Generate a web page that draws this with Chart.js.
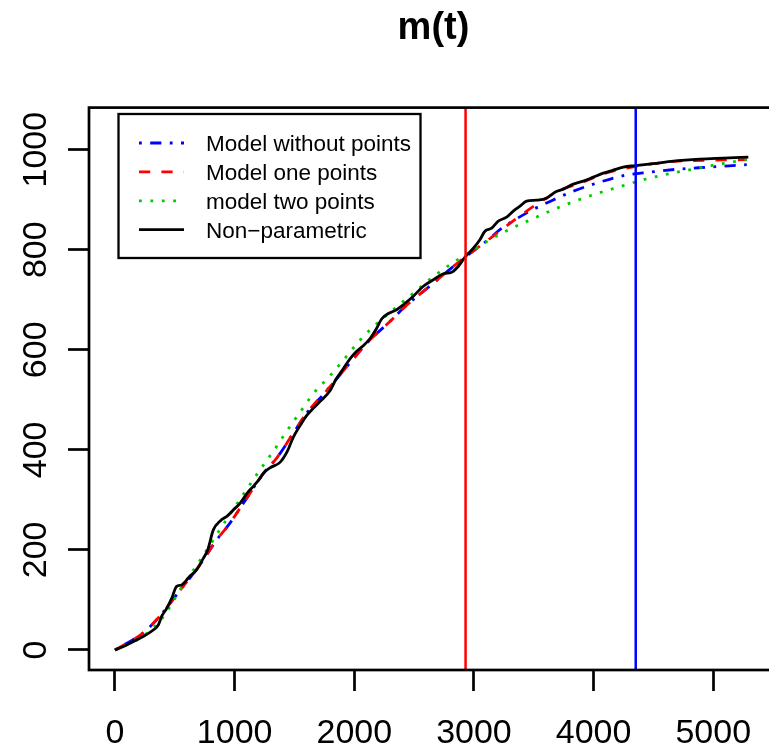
<!DOCTYPE html>
<html>
<head>
<meta charset="utf-8">
<script src="https://cdn.jsdelivr.net/npm/chart.js@4.4.1/dist/chart.umd.min.js"></script>
<style>
html,body{margin:0;padding:0;overflow:hidden;background:#ffffff;}
#wrap{width:778px;height:751px;}
</style>
</head>
<body>
<div id="wrap"><canvas id="c" width="778" height="751"></canvas></div>
<script>
// ---------- data ----------
const chartTitle = 'm(t)';
const xTicks = [0, 1000, 2000, 3000, 4000, 5000];
const yTicks = [0, 200, 400, 600, 800, 1000];
const changePoints = [2930, 4352];

// Non-parametric (black, solid)
const npX = [0, 98, 181, 251, 320, 362, 390, 432, 474, 515, 557, 627, 682, 738, 775, 822, 880, 940, 989, 1045, 1110, 1160, 1212, 1240, 1295, 1379, 1440, 1490, 1546, 1600, 1657, 1720, 1797, 1845, 1908, 1964, 2020, 2075, 2130, 2180, 2230, 2290, 2354, 2410, 2493, 2577, 2661, 2744, 2814, 2870, 2925, 2995, 3050, 3092, 3148, 3203, 3273, 3329, 3385, 3440, 3524, 3607, 3677, 3747, 3830, 3914, 3998, 4081, 4164, 4248, 4346, 4499, 4666, 4889, 5084, 5293];
const npY = [0, 10, 20, 29, 40, 50, 67, 83, 103, 127, 130, 148, 160, 183, 200, 240, 258, 268, 280, 293, 315, 328, 343, 353, 364, 375, 397, 425, 448, 468, 483, 498, 518, 540, 562, 582, 597, 608, 622, 640, 662, 673, 680, 690, 707, 727, 740, 752, 755, 767, 785, 803, 820, 837, 843, 857, 865, 877, 887, 897, 899, 903, 915, 921, 931, 937, 945, 953, 959, 965, 968, 972, 977, 981, 983, 985];

// Model one points (red, dashed)
const m1X = [0, 250, 390, 530, 700, 850, 950, 1100, 1240, 1350, 1500, 1600, 1750, 1940, 2120, 2300, 2410, 2660, 2830, 2970, 3050, 3270, 3500, 3730, 3890, 4030, 4160, 4500, 4700, 5030, 5280];
const m1Y = [0, 37, 72, 115, 167, 220, 250, 303, 353, 383, 437, 473, 513, 567, 617, 657, 683, 733, 767, 793, 807, 847, 887, 920, 933, 947, 957, 972, 977, 979, 980];

// Model without points (blue, dot-dash)
const m0X = [0, 250, 390, 530, 700, 850, 950, 1100, 1240, 1350, 1500, 1600, 1750, 1940, 2120, 2300, 2410, 2660, 2830, 2970, 3134, 3217, 3468, 3649, 3830, 4025, 4248, 4471, 4708, 4958, 5280];
const m0Y = [0, 37, 72, 115, 167, 220, 250, 303, 353, 383, 437, 473, 513, 567, 617, 657, 683, 733, 767, 793, 823, 840, 877, 898, 917, 933, 948, 955, 961, 965, 970];

// model two points (green, dotted)
const m2X = [0, 250, 400, 557, 700, 878, 1045, 1212, 1323, 1435, 1546, 1657, 1797, 1922, 2047, 2187, 2340, 2493, 2632, 2800, 2911, 3000, 3134, 3301, 3483, 3663, 3844, 4025, 4220, 4404, 4597, 4790, 4983, 5175, 5280];
const m2Y = [0, 30, 65, 125, 175, 241, 301, 360, 397, 437, 475, 512, 548, 583, 619, 652, 683, 713, 741, 770, 787, 800, 820, 841, 861, 880, 897, 912, 926, 939, 950, 959, 968, 976, 980];

const legendLabels = ['Model without points', 'Model one points', 'model two points', 'Non\u2212parametric'];

// ---------- chart ----------
const FONT = '"Liberation Sans", Arial, Helvetica, sans-serif';
const X_MIN = -217, X_MAX = 5541, Y_MIN = -40, Y_MAX = 1084;
const LW = 2.8;
const toPts = (xs, ys) => xs.map((x, i) => ({x: x, y: ys[i]}));
const vline = (x) => [{x: x, y: Y_MIN}, {x: x, y: Y_MAX}];

const datasets = [
  {label: 'cp1', data: vline(changePoints[0]), borderColor: '#FF0000', borderWidth: 2.5, order: 0, tension: 0},
  {label: 'cp2', data: vline(changePoints[1]), borderColor: '#0000FF', borderWidth: 2.5, order: 0, tension: 0},
  {label: legendLabels[3], data: toPts(npX, npY), borderColor: '#000000', borderWidth: LW, order: 1, cubicInterpolationMode: 'monotone', legendIndex: 3},
  {label: legendLabels[2], data: toPts(m2X, m2Y), borderColor: '#00CD00', borderWidth: LW, borderDash: [2.8, 8.6], order: 2, cubicInterpolationMode: 'monotone', legendIndex: 2},
  {label: legendLabels[1], data: toPts(m1X, m1Y), borderColor: '#FF0000', borderWidth: LW, borderDash: [11.2, 11.2], order: 3, cubicInterpolationMode: 'monotone', legendIndex: 1},
  {label: legendLabels[0], data: toPts(m0X, m0Y), borderColor: '#0000FF', borderWidth: LW, borderDash: [2.8, 8.4, 11.2, 8.4], order: 4, cubicInterpolationMode: 'monotone', legendIndex: 0}
];
datasets.forEach(d => { d.showLine = true; d.pointRadius = 0; d.borderCapStyle = 'butt'; d.fill = false; });

const framePlugin = {
  id: 'frame',
  afterDraw(chart) {
    const a = chart.chartArea, ctx = chart.ctx;
    ctx.save();
    ctx.strokeStyle = '#000'; ctx.lineWidth = 2.7; ctx.setLineDash([]);
    ctx.strokeRect(a.left, a.top, a.right - a.left, a.bottom - a.top);
    ctx.restore();
  }
};

const legendPlugin = {
  id: 'rlegend',
  afterDraw(chart) {
    const ctx = chart.ctx;
    ctx.save();
    ctx.setLineDash([]);
    ctx.lineWidth = 2.3; ctx.strokeStyle = '#000';
    ctx.strokeRect(118.5, 114, 302, 144);
    const items = chart.data.datasets.filter(d => d.legendIndex !== undefined)
      .sort((a, b) => a.legendIndex - b.legendIndex);
    items.forEach((d, i) => {
      const y = 143 + i * 28.9;
      ctx.setLineDash(d.borderDash || []);
      ctx.lineDashOffset = 0;
      ctx.lineCap = 'butt';
      ctx.strokeStyle = d.borderColor; ctx.lineWidth = d.borderWidth;
      ctx.beginPath(); ctx.moveTo(139, y); ctx.lineTo(184, y); ctx.stroke();
      ctx.setLineDash([]);
      ctx.fillStyle = '#000'; ctx.font = '22.5px ' + FONT;
      ctx.textBaseline = 'alphabetic'; ctx.textAlign = 'left';
      ctx.fillText(d.label, 206, y + 8);
    });
    ctx.restore();
  }
};

new Chart(document.getElementById('c'), {
  type: 'scatter',
  data: {datasets: datasets},
  plugins: [framePlugin, legendPlugin],
  options: {
    responsive: false,
    animation: false,
    events: [],
    layout: {padding: 0},
    plugins: {
      legend: {display: false},
      tooltip: {enabled: false},
      title: {
        display: true, text: chartTitle, fullSize: false, color: '#000',
        font: {family: FONT, size: 38, weight: 'bold'},
        padding: {top: 6, bottom: 56}
      }
    },
    scales: {
      x: {
        type: 'linear', position: 'bottom', min: X_MIN, max: X_MAX,
        afterBuildTicks: s => { s.ticks = xTicks.map(v => ({value: v})); },
        afterFit: s => { s.height = 81; },
        border: {display: false},
        grid: {display: true, drawOnChartArea: false, drawTicks: true, tickLength: 21, tickWidth: 2.7, tickColor: '#000'},
        ticks: {autoSkip: false, maxRotation: 0, color: '#000', padding: 22, font: {family: FONT, size: 34},
                callback: v => String(v)}
      },
      y: {
        type: 'linear', position: 'left', min: Y_MIN, max: Y_MAX,
        afterBuildTicks: s => { s.ticks = yTicks.map(v => ({value: v})); },
        afterFit: s => { s.width = 89; },
        border: {display: false},
        grid: {display: true, drawOnChartArea: false, drawTicks: true, tickLength: 21, tickWidth: 2.7, tickColor: '#000'},
        ticks: {autoSkip: false, minRotation: 90, maxRotation: 90, crossAlign: 'center', color: '#000', padding: -6, font: {family: FONT, size: 34},
                callback: v => String(v)}
      }
    }
  }
});
</script>
</body>
</html>
